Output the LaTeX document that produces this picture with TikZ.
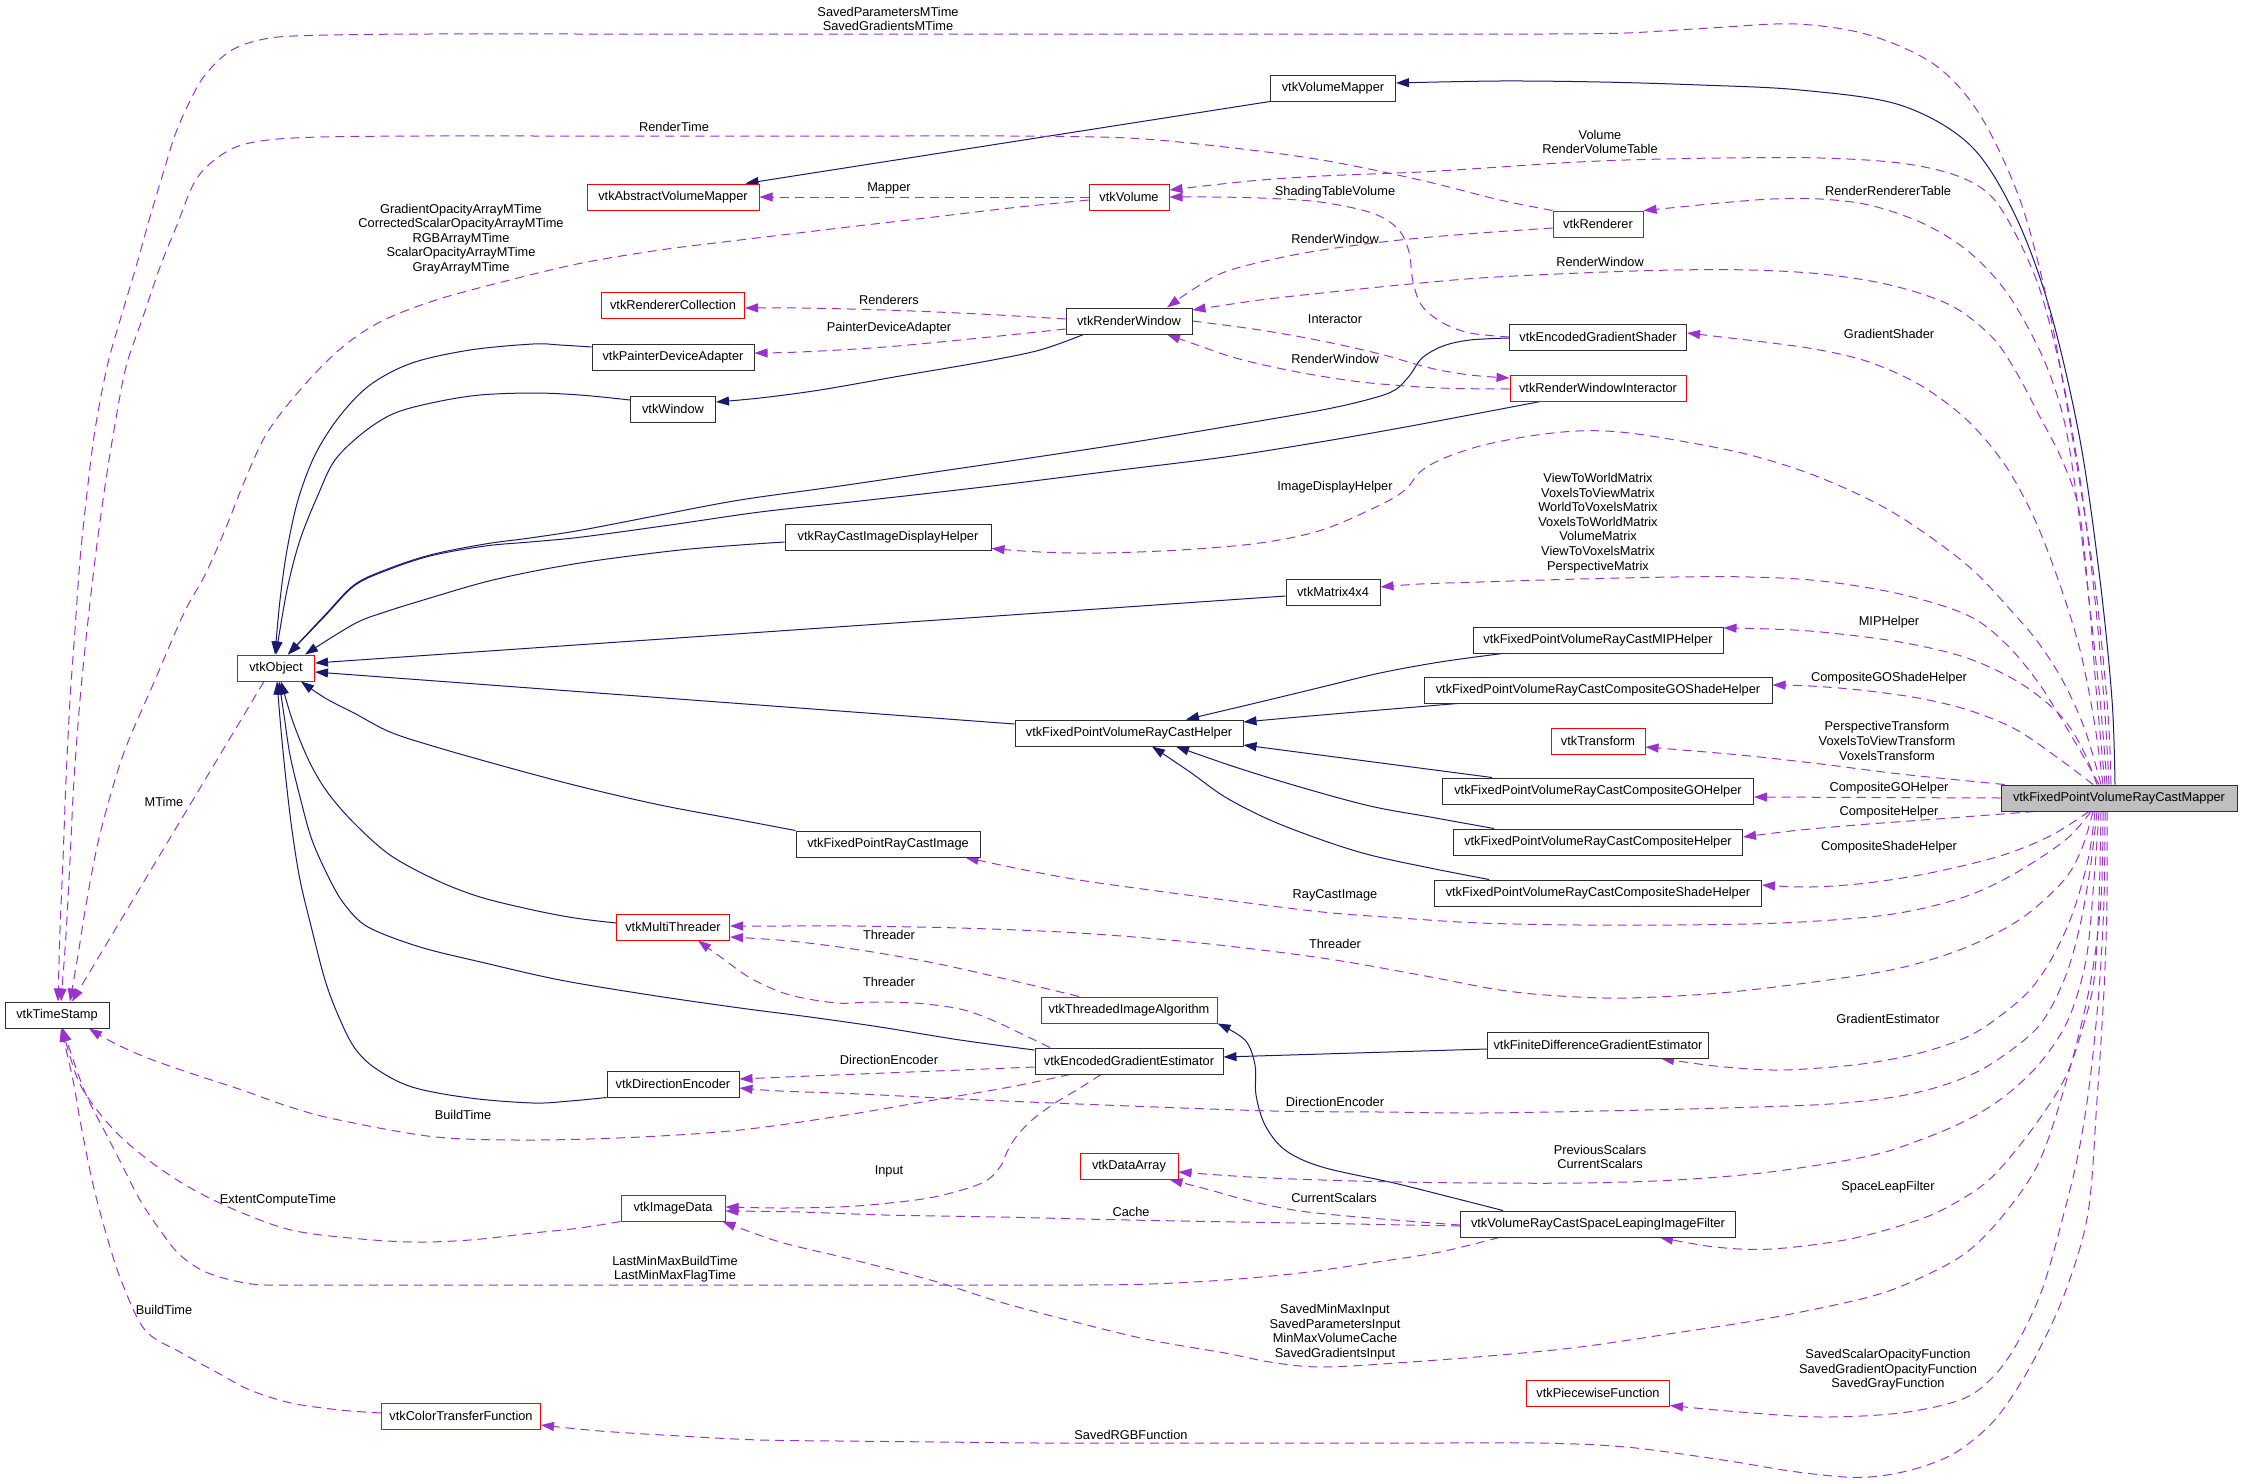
\documentclass[tikz,border=0pt]{standalone}
\usepackage{fontspec}
\setmainfont{Liberation Sans}
\usetikzlibrary{arrows.meta}
\pgfdeclarelayer{bg}
\pgfsetlayers{bg,main}
\definecolor{inhcol}{HTML}{191970}
\definecolor{usecol}{HTML}{9A32CD}
\definecolor{mapfill}{HTML}{BFBFBF}
\definecolor{boxcol}{HTML}{303030}
\begin{document}
\begin{tikzpicture}[x=1pt,y=-1pt,
  font=\fontsize{12.8}{14.6}\selectfont,
  cls/.style={draw=boxcol, line width=1pt, fill=white, minimum height=26pt, inner xsep=2pt, inner ysep=0pt},
  rcls/.style={cls, draw=red},
  lbl/.style={align=center, inner sep=0pt},
  inh/.style={draw=inhcol, line width=1pt, -{Triangle[length=13pt,width=9pt]}},
  use/.style={draw=usecol, line width=1pt, dash pattern=on 9pt off 6pt, -{Triangle[length=13pt,width=9pt]}},
  every plot/.style={smooth, tension=0.55}]
\useasboundingbox (0,0) rectangle (2243,1483);
% ---------------- nodes
\node[cls, minimum width=104pt] (ts) at (57,1015) {vtkTimeStamp};
\node[rcls, minimum width=77pt] (obj) at (276,668) {vtkObject};
\node[cls, minimum width=125pt] (vm) at (1333,88) {vtkVolumeMapper};
\node[rcls, minimum width=172pt] (avm) at (673,197) {vtkAbstractVolumeMapper};
\node[rcls, minimum width=80pt] (vol) at (1129,197) {vtkVolume};
\node[rcls, minimum width=90pt] (ren) at (1598,224) {vtkRenderer};
\node[rcls, minimum width=143pt] (rc) at (673,305) {vtkRendererCollection};
\node[cls, minimum width=126pt] (rw) at (1129,321) {vtkRenderWindow};
\node[cls, minimum width=162pt] (pda) at (673,357) {vtkPainterDeviceAdapter};
\node[cls, minimum width=177pt] (egs) at (1598,337) {vtkEncodedGradientShader};
\node[cls, minimum width=85pt] (win) at (673,409) {vtkWindow};
\node[rcls, minimum width=176pt] (rwi) at (1598,388) {vtkRenderWindowInteractor};
\node[cls, minimum width=206pt] (rcidh) at (888,537) {vtkRayCastImageDisplayHelper};
\node[cls, minimum width=94pt] (m44) at (1333,592) {vtkMatrix4x4};
\node[cls, minimum width=250pt] (mip) at (1598,640) {vtkFixedPointVolumeRayCastMIPHelper};
\node[cls, minimum width=348pt] (cgos) at (1598,690) {vtkFixedPointVolumeRayCastCompositeGOShadeHelper};
\node[cls, minimum width=228pt] (help) at (1129,733) {vtkFixedPointVolumeRayCastHelper};
\node[rcls, minimum width=94pt] (tr) at (1598,741) {vtkTransform};
\node[cls, minimum width=311pt] (cgo) at (1598,791) {vtkFixedPointVolumeRayCastCompositeGOHelper};
\node[cls, minimum width=236pt, fill=mapfill] (mapper) at (2119,798) {vtkFixedPointVolumeRayCastMapper};
\node[cls, minimum width=289pt] (ch) at (1598,842) {vtkFixedPointVolumeRayCastCompositeHelper};
\node[cls, minimum width=184pt] (rci) at (888,844) {vtkFixedPointRayCastImage};
\node[cls, minimum width=327pt] (csh) at (1598,893) {vtkFixedPointVolumeRayCastCompositeShadeHelper};
\node[rcls, minimum width=113pt] (mt) at (673,927) {vtkMultiThreader};
\node[rcls, minimum width=176pt] (tia) at (1129,1010) {vtkThreadedImageAlgorithm};
\node[cls, minimum width=188pt] (ege) at (1129,1061) {vtkEncodedGradientEstimator};
\node[cls, minimum width=221pt] (fdge) at (1598,1045) {vtkFiniteDifferenceGradientEstimator};
\node[cls, minimum width=132pt] (de) at (673,1084) {vtkDirectionEncoder};
\node[rcls, minimum width=98pt] (da) at (1129,1166) {vtkDataArray};
\node[rcls, minimum width=104pt] (id) at (673,1208) {vtkImageData};
\node[cls, minimum width=275pt] (slf) at (1598,1224) {vtkVolumeRayCastSpaceLeapingImageFilter};
\node[rcls, minimum width=143pt] (pf) at (1598,1393) {vtkPiecewiseFunction};
\node[rcls, minimum width=159pt] (ctf) at (461,1416) {vtkColorTransferFunction};
% ---------------- labels
\node[lbl] (l1) at (888,19) {SavedParametersMTime\\SavedGradientsMTime};
\node[lbl] (l2) at (674,127) {RenderTime};
\node[lbl] (l3) at (461,239) {GradientOpacityArrayMTime\\CorrectedScalarOpacityArrayMTime\\RGBArrayMTime\\ScalarOpacityArrayMTime\\GrayArrayMTime};
\node[lbl] (l4) at (889,188) {Mapper};
\node[lbl] (l5) at (1335,192) {ShadingTableVolume};
\node[lbl] (l6) at (1600,142) {Volume\\RenderVolumeTable};
\node[lbl] (l7) at (1888,191) {RenderRendererTable};
\node[lbl] (l8) at (1335,239) {RenderWindow};
\node[lbl] (l9) at (1600,262) {RenderWindow};
\node[lbl] (l10) at (889,300) {Renderers};
\node[lbl] (l11) at (889,328) {PainterDeviceAdapter};
\node[lbl] (l12) at (1335,319) {Interactor};
\node[lbl] (l13) at (1335,359) {RenderWindow};
\node[lbl] (l14) at (1889,334) {GradientShader};
\node[lbl] (l15) at (1335,487) {ImageDisplayHelper};
\node[lbl] (l16) at (1598,523) {ViewToWorldMatrix\\VoxelsToViewMatrix\\WorldToVoxelsMatrix\\VoxelsToWorldMatrix\\VolumeMatrix\\ViewToVoxelsMatrix\\PerspectiveMatrix};
\node[lbl] (l17) at (1889,622) {MIPHelper};
\node[lbl] (l18) at (1889,678) {CompositeGOShadeHelper};
\node[lbl] (l19) at (1887,741) {PerspectiveTransform\\VoxelsToViewTransform\\VoxelsTransform};
\node[lbl] (l20) at (1889,788) {CompositeGOHelper};
\node[lbl] (l21) at (1889,812) {CompositeHelper};
\node[lbl] (l22) at (1889,847) {CompositeShadeHelper};
\node[lbl] (l23) at (164,802) {MTime};
\node[lbl] (l24) at (1335,895) {RayCastImage};
\node[lbl] (l25) at (889,935) {Threader};
\node[lbl] (l26) at (1335,944) {Threader};
\node[lbl] (l27) at (889,982) {Threader};
\node[lbl] (l28) at (1888,1019) {GradientEstimator};
\node[lbl] (l29) at (889,1060) {DirectionEncoder};
\node[lbl] (l30) at (1335,1102) {DirectionEncoder};
\node[lbl] (l31) at (463,1115) {BuildTime};
\node[lbl] (l32) at (1600,1157) {PreviousScalars\\CurrentScalars};
\node[lbl] (l33) at (889,1171) {Input};
\node[lbl] (l34) at (1888,1187) {SpaceLeapFilter};
\node[lbl] (l35) at (1334,1198) {CurrentScalars};
\node[lbl] (l36) at (278,1200) {ExtentComputeTime};
\node[lbl] (l37) at (1131,1212) {Cache};
\node[lbl] (l38) at (675,1269) {LastMinMaxBuildTime\\LastMinMaxFlagTime};
\node[lbl] (l39) at (164,1310) {BuildTime};
\node[lbl] (l40) at (1335,1332) {SavedMinMaxInput\\SavedParametersInput\\MinMaxVolumeCache\\SavedGradientsInput};
\node[lbl] (l41) at (1888,1370) {SavedScalarOpacityFunction\\SavedGradientOpacityFunction\\SavedGrayFunction};
\node[lbl] (l42) at (1131,1435) {SavedRGBFunction};
% ---------------- edges
\begin{pgfonlayer}{bg}
\fill[white] (0,0) rectangle (2243,1483);
% inheritance
\draw[inh] plot coordinates {([xshift=-4pt]mapper.north) (2112,700) (2100,580) (2080,440) (2050,310) (2015,215) (1970,145) (1900,105) (1800,90) (1700,85) (1600,82) (1500,81) ([yshift=5pt]vm.east)};
\draw[inh] (vm.south west) -- ([xshift=-14pt]avm.north east);
\draw[inh] plot coordinates {([xshift=18pt]rw.south west) (1040,350) (982,362) (900,376) (820,390) (760,398) ([yshift=7pt]win.east)};
\draw[inh] plot coordinates {([yshift=9pt]win.west) (580,395) (533,393) (480,395) (436,402) (395,413) (364,432) (335,460) (318,495) (300,540) (287,590) (obj.north)};
\draw[inh] plot coordinates {([yshift=10pt]pda.west) (560,345) (533,344) (470,350) (412,363) (370,385) (339,417) (315,455) (298,500) (287,550) (280,600) ([xshift=-1pt]obj.north)};
\draw[inh] plot coordinates {([yshift=-1pt]egs.west) (1470,340) (1443,346) (1422,358) (1410,375) (1395,390) (1370,399) (1322,410) (1230,426) (1128,443) (1030,458) (935,472) (840,486) (740,500) (660,515) (582,530) (530,538) (485,544) (430,555) (385,570) (354,585) (325,615) ([xshift=12pt]obj.north)};
\draw[inh] plot coordinates {([xshift=31pt]rwi.south west) (1480,413) (1400,428) (1320,442) (1225,457) (1120,470) (1025,482) (940,492) (851,502) (760,512) (670,525) (582,537) (530,542) (485,546) (430,556) (385,571) (354,586) (325,616) ([xshift=12pt]obj.north)};
\draw[inh] plot coordinates {([yshift=-5pt]rcidh.west) (740,545) (680,550) (600,560) (540,570) (485,582) (430,598) (385,612) (354,624) ([xshift=-10pt]obj.north east)};
\draw[inh] ([yshift=-4pt]m44.west) -- ([yshift=5pt]obj.east);
\draw[inh] ([yshift=9pt]help.west) -- ([yshift=-4pt]obj.east);
\draw[inh] plot coordinates {(rci.north west) (740,820) (660,805) (582,787) (510,768) (436,747) (390,732) (354,713) (325,698) ([xshift=-14pt]obj.south east)};
\draw[inh] plot coordinates {([yshift=4pt]mt.west) (575,918) (533,910) (480,897) (436,880) (390,855) (354,823) (328,793) (310,763) (293,722) ([xshift=5pt]obj.south)};
\draw[inh] plot coordinates {([yshift=11pt]ege.west) (960,1040) (880,1027) (810,1017) (740,1008) (650,995) (560,980) (485,963) (420,947) (368,927) (345,905) (330,880) (312,840) (300,797) (290,755) (284,715) ([xshift=3pt]obj.south)};
\draw[inh] plot coordinates {(de.south west) (570,1101) (533,1103) (470,1098) (412,1087) (375,1068) (354,1047) (338,1015) (325,980) (312,930) (300,880) (292,830) (286,780) (281,730) ([xshift=1pt]obj.south)};
\draw[inh] plot coordinates {([xshift=30pt]mip.south west) (1440,662) (1380,673) (1322,687) (1260,702) ([xshift=57pt]help.north)};
\draw[inh] plot coordinates {([xshift=34pt]cgos.south west) (1380,710) (1310,716) ([yshift=11pt]help.east)};
\draw[inh] ([xshift=50pt]cgo.north west) -- ([yshift=-12pt]help.east);
\draw[inh] plot coordinates {([xshift=41pt]ch.north west) (1430,817) (1370,806) (1300,787) (1235,767) ([xshift=47pt]help.south)};
\draw[inh] plot coordinates {([xshift=55pt]csh.north west) (1430,868) (1370,855) (1322,840) (1270,820) (1225,797) (1190,772) ([xshift=23pt]help.south)};
\draw[inh] ([yshift=-4pt]fdge.west) -- ([yshift=4pt]ege.east);
\draw[inh] plot coordinates {([xshift=43pt]slf.north west) (1450,1197) (1394,1183) (1322,1167) (1285,1150) (1265,1125) (1256,1095) (1255,1065) (1245,1040) (tia.south east)};
% usage from the mapper
\draw[use] plot coordinates {([xshift=-8pt]mapper.north) (2108,714) (2097,600) (2084,510) (2066,400) (2047,300) (2020,200) (1980,115) (1935,65) (1869,35) (1796,24) (1710,28) (1626,33) (1550,34) (1480,34) (1330,34) (1180,34) (1030,34) (880,34) (730,34) (580,34) (430,34) (330,35) (270,38) (232,50) (205,75) (188,105) (175,135) (165,167) (150,217) (136,267) (121,317) (107,367) (95,430) (87,493) (80,560) (75,630) (70,700) (66,780) (63,860) (60,930) ([xshift=1pt]ts.north)};
\draw[use] plot coordinates {([xshift=-10pt]mapper.north) (2104,700) (2095,600) (2083,500) (2072,430) (2060,367) (2040,290) (2015,233) (1990,195) (1955,175) (1900,163) (1821,158) (1720,158) (1626,160) (1560,163) (1500,167) (1420,172) (1322,176) (1250,181) ([yshift=7pt]vol.east)};
\draw[use] plot coordinates {([xshift=-12pt]mapper.north) (2100,700) (2089,600) (2077,500) (2064,420) (2044,360) (2015,305) (1990,272) (1960,245) (1920,222) (1869,205) (1820,199) (1772,199) (1720,203) (1680,207) (ren.north east)};
\draw[use] plot coordinates {([xshift=-14pt]mapper.north) (2097,700) (2089,600) (2079,510) (2062,460) (2040,417) (2015,370) (1991,336) (1950,305) (1890,285) (1821,274) (1750,270) (1675,270) (1580,273) (1480,278) (1400,285) (1322,293) (1260,300) ([yshift=11pt]rw.east)};
\draw[use] plot coordinates {([xshift=-16pt]mapper.north) (2094,720) (2080,650) (2060,585) (2035,520) (2005,465) (1967,420) (1920,385) (1869,362) (1820,350) (1772,343) (1730,338) ([yshift=4pt]egs.east)};
\draw[use] plot coordinates {([xshift=-18pt]mapper.north) (2085,730) (2064,683) (2040,645) (2015,615) (1967,565) (1894,513) (1821,478) (1750,455) (1675,440) (1620,432) (1577,431) (1530,436) (1480,446) (1442,459) (1420,472) (1405,490) (1380,505) (1322,530) (1260,543) (1180,550) (1100,553) (1040,552) ([yshift=2pt]rcidh.south east)};
\draw[use] plot coordinates {([xshift=-20pt]mapper.north) (2075,742) (2040,685) (2005,643) (1967,615) (1900,594) (1821,581) (1750,577) (1675,577) (1580,579) (1480,582) (1420,584) ([yshift=5pt]m44.east)};
\draw[use] plot coordinates {([xshift=-22pt]mapper.north) (2082,748) (2060,715) (2020,683) (1967,658) (1900,642) (1821,632) (1770,629) ([yshift=12pt]mip.east)};
\draw[use] plot coordinates {([xshift=-26pt]mapper.north) (2058,758) (2015,729) (1968,710) (1918,698) (1860,690) (1810,686) ([yshift=5pt]cgos.east)};
\draw[use] plot coordinates {([xshift=4pt]mapper.north west) (1900,774) (1821,764) (1740,755) ([yshift=-6pt]tr.east)};
\draw[use] (mapper.west) -- ([yshift=-6pt]cgo.east);
\draw[use] plot coordinates {([xshift=34pt]mapper.south west) (1950,818) (1869,824) (1800,830) ([yshift=5pt]ch.east)};
\draw[use] plot coordinates {([xshift=-30pt]mapper.south) (2050,836) (2000,856) (1930,873) (1867,883) (1810,887) ([yshift=8pt]csh.east)};
\draw[use] plot coordinates {([xshift=-28pt]mapper.south) (2070,836) (2040,858) (2003,880) (1967,896) (1920,909) (1869,917) (1780,923) (1675,925) (1580,925) (1480,923) (1400,918) (1322,912) (1225,900) (1150,890) (1079,880) (1020,869) ([xshift=-15pt]rci.south east)};
\draw[use] plot coordinates {([xshift=-26pt]mapper.south) (2082,848) (2064,880) (2022,918) (1967,947) (1900,968) (1821,981) (1720,993) (1626,998) (1560,996) (1500,990) (1420,975) (1322,958) (1200,943) (1079,933) (960,928) (850,926) (780,926) ([yshift=1pt]mt.east)};
\draw[use] plot coordinates {([xshift=-24pt]mapper.south) (2088,860) (2072,915) (2052,958) (2030,990) (2000,1016) (1967,1037) (1920,1053) (1869,1063) (1820,1068) (1772,1070) (1715,1066) ([xshift=-48pt]fdge.south east)};
\draw[use] plot coordinates {([xshift=-22pt]mapper.south) (2090,870) (2079,930) (2064,980) (2038,1027) (1991,1064) (1950,1083) (1900,1096) (1830,1104) (1723,1108) (1600,1111) (1480,1113) (1380,1112) (1273,1111) (1130,1106) (982,1100) (860,1094) (780,1091) ([yshift=-4pt]de.east)};
\draw[use] plot coordinates {([xshift=-20pt]mapper.south) (2094,880) (2086,960) (2068,1020) (2040,1063) (2005,1096) (1967,1120) (1920,1140) (1869,1156) (1770,1172) (1675,1180) (1580,1183) (1480,1183) (1400,1182) (1322,1180) (1250,1177) ([yshift=-6pt]da.east)};
\draw[use] plot coordinates {([xshift=-18pt]mapper.south) (2099,900) (2094,980) (2082,1030) (2064,1080) (2030,1132) (1991,1178) (1955,1203) (1918,1220) (1850,1239) (1772,1249) (1715,1247) ([xshift=-76pt]slf.south east)};
\draw[use] plot coordinates {([xshift=-16pt]mapper.south) (2101,900) (2090,985) (2068,1075) (2040,1160) (2005,1213) (1967,1252) (1920,1278) (1869,1297) (1770,1318) (1675,1333) (1580,1347) (1500,1355) (1410,1362) (1322,1367) (1270,1362) (1225,1353) (1150,1340) (1079,1323) (1000,1302) (934,1281) (850,1259) (780,1242) ([xshift=-3pt]id.south east)};
\draw[use] plot coordinates {([xshift=-14pt]mapper.south) (2104,900) (2099,990) (2090,1080) (2079,1150) (2064,1213) (2042,1290) (2015,1347) (1990,1380) (1960,1400) (1900,1413) (1821,1417) (1740,1412) ([yshift=1pt]pf.south east)};
\draw[use] plot coordinates {([xshift=-12pt]mapper.south) (2107,900) (2104,990) (2097,1100) (2088,1213) (2066,1290) (2040,1348) (2015,1392) (1990,1425) (1955,1453) (1918,1468) (1880,1476) (1845,1477) (1790,1471) (1723,1460) (1626,1447) (1540,1443) (1440,1443) (1340,1443) (1240,1443) (1140,1443) (1040,1443) (940,1442) (840,1441) (760,1440) (680,1436) (600,1431) ([yshift=-9pt]ctf.east)};
% other usage edges
\draw[use] plot coordinates {(ren.north west) (1500,200) (1420,180) (1322,160) (1225,147) (1128,138) (1007,136) (900,136) (780,136) (660,136) (540,136) (420,136) (320,137) (268,140) (236,147) (212,162) (194,183) (177,225) (160,267) (143,317) (126,367) (114,430) (104,493) (95,560) (87,630) (80,700) (74,780) (70,860) (66,935) ([xshift=4pt]ts.north)};
\draw[use] plot coordinates {([yshift=-3pt]vol.west) (1010,208) (934,217) (840,228) (740,240) (660,250) (582,263) (510,280) (436,300) (380,322) (339,350) (300,390) (267,433) (245,480) (225,530) (205,575) (184,613) (155,680) (126,747) (110,797) (97,847) (86,905) (78,955) ([xshift=13pt]ts.north)};
\draw[use] ([xshift=-12pt]obj.south) -- ([xshift=15pt]ts.north);
\draw[use] (vol.west) -- (avm.east);
\draw[use] plot coordinates {(egs.west) (1470,333) (1443,323) (1422,306) (1413,282) (1409,252) (1398,229) (1372,213) (1320,202) (1260,198) (1210,197) (vol.east)};
\draw[use] plot coordinates {([yshift=-4pt]ren.west) (1480,233) (1400,240) (1322,250) (1265,261) (1222,273) (1192,290) ([xshift=38pt]rw.north)};
\draw[use] plot coordinates {([yshift=2pt]rw.west) (980,314) (885,310) (800,308) ([yshift=-3pt]rc.east)};
\draw[use] plot coordinates {([yshift=-8pt]rw.west) (980,338) (885,347) (800,352) ([yshift=4pt]pda.east)};
\draw[use] plot coordinates {(rw.east) (1260,330) (1322,341) (1380,354) (1430,368) (1470,375) ([yshift=10pt]rwi.west)};
\draw[use] plot coordinates {([yshift=-1pt]rwi.west) (1440,388) (1370,383) (1320,376) (1273,367) (1232,357) (1200,346) ([xshift=38pt]rw.south)};
\draw[use] plot coordinates {([xshift=-50pt]tia.north) (1010,980) (934,963) (860,950) (790,941) ([yshift=-10pt]mt.east)};
\draw[use] plot coordinates {([xshift=-79pt]ege.north) (1022,1034) (992,1020) (960,1009) (915,1003) (870,1002) (837,1003) (790,995) (752,979) (722,958) ([xshift=25pt]mt.south)};
\draw[use] plot coordinates {([yshift=-6pt]ege.west) (960,1070) (885,1073) (810,1076) ([yshift=5pt]de.east)};
\draw[use] plot coordinates {([xshift=-59pt]ege.south) (1010,1087) (934,1100) (840,1116) (740,1130) (640,1137) (533,1140) (436,1137) (339,1120) (290,1107) (242,1090) (190,1073) (145,1057) (112,1042) ([xshift=32pt]ts.south)};
\draw[use] plot coordinates {([xshift=-28pt]ege.south) (1080,1088) (1055,1103) (1032,1120) (1016,1137) (1007,1152) (1000,1167) (982,1183) (934,1197) (880,1204) (837,1207) (780,1208) ([yshift=1pt]id.east)};
\draw[use] plot coordinates {([yshift=-1pt]slf.west) (1370,1218) (1300,1211) (1250,1201) (1210,1190) ([xshift=-9pt]da.south east)};
\draw[use] plot coordinates {([yshift=-2pt]slf.west) (1300,1223) (1128,1220) (1000,1217) (885,1215) (800,1212) ([yshift=-3pt]id.east)};
\draw[use] plot coordinates {([xshift=39pt]slf.south west) (1440,1252) (1370,1263) (1300,1273) (1225,1280) (1150,1284) (1079,1285) (960,1285) (840,1285) (740,1285) (620,1285) (500,1285) (380,1285) (300,1285) (252,1284) (208,1273) (180,1255) (160,1230) (140,1200) (121,1163) (104,1130) (87,1097) (75,1065) ([xshift=6pt]ts.south)};
\draw[use] plot coordinates {(id.south west) (580,1228) (533,1233) (470,1240) (412,1242) (350,1238) (291,1230) (240,1212) (194,1190) (155,1165) (121,1137) (97,1110) (78,1080) ([xshift=5pt]ts.south)};
\draw[use] plot coordinates {([yshift=3pt]ctf.west) (340,1410) (291,1403) (250,1390) (218,1373) (180,1352) (145,1330) (121,1280) (105,1230) (92,1180) (80,1120) (73,1080) ([xshift=4pt]ts.south)};
\end{pgfonlayer}
\end{tikzpicture}
\end{document}
